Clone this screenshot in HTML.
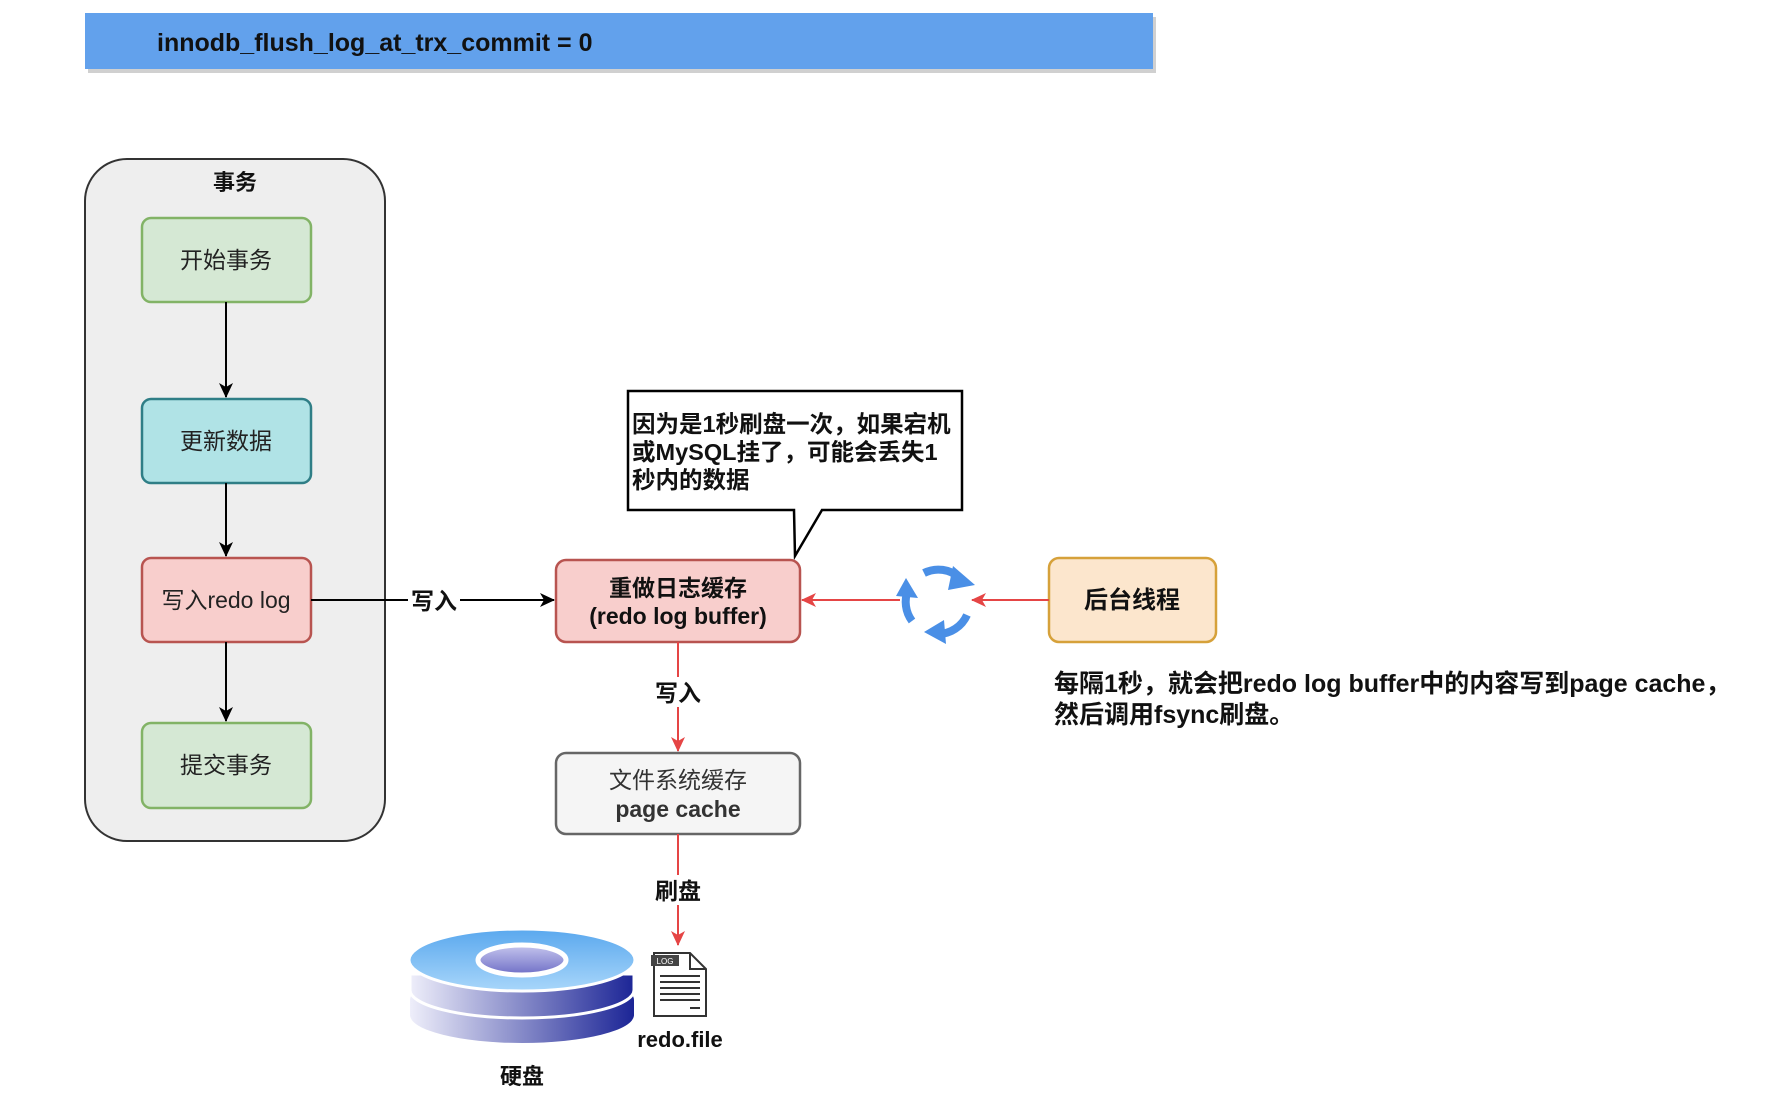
<!DOCTYPE html>
<html><head><meta charset="utf-8"><style>
html,body{margin:0;padding:0;background:#fff;}
svg{display:block;}
text{font-family:"Liberation Sans","Noto Sans CJK SC",sans-serif;}
</style></head><body>
<svg width="1786" height="1114" viewBox="0 0 1786 1114" xmlns="http://www.w3.org/2000/svg">
<defs>
<marker id="ab" markerWidth="16" markerHeight="16" refX="14" refY="8" orient="auto" markerUnits="userSpaceOnUse"><path d="M0,1 L15,8 L0,15 L4,8 Z" fill="#000"/></marker>
<marker id="ar" markerWidth="16" markerHeight="16" refX="14" refY="8" orient="auto" markerUnits="userSpaceOnUse"><path d="M0,1 L15,8 L0,15 L4,8 Z" fill="#e54545"/></marker>
<linearGradient id="dtop" x1="0" y1="0" x2="0" y2="1"><stop offset="0" stop-color="#5aa8ee"/><stop offset="1" stop-color="#a8d6fa"/></linearGradient>
<linearGradient id="dside" x1="0" y1="0" x2="1" y2="0"><stop offset="0" stop-color="#eeeefa"/><stop offset="1" stop-color="#1c2596"/></linearGradient>
<linearGradient id="hole" x1="0" y1="0" x2="0" y2="1"><stop offset="0" stop-color="#c6c6ee"/><stop offset="1" stop-color="#6e6ec6"/></linearGradient>
</defs>
<rect x="88" y="17" width="1068" height="56" fill="#d0d0d0"/>
<rect x="85" y="13" width="1068" height="56" fill="#62a1ec"/>
<text x="157" y="51" font-size="25" font-weight="bold" fill="#111">innodb_flush_log_at_trx_commit = 0</text>
<rect x="85" y="159" width="300" height="682" rx="42" fill="#eeeeee" stroke="#333" stroke-width="2"/>
<text x="235" y="190" font-size="22" font-weight="bold" text-anchor="middle" fill="#111">事务</text>
<rect x="142" y="218" width="169" height="84" rx="9" fill="#d5e8d4" stroke="#82b366" stroke-width="2.5"/>
<text x="226" y="268" font-size="23" text-anchor="middle" fill="#222">开始事务</text>
<rect x="142" y="399" width="169" height="84" rx="9" fill="#b0e3e6" stroke="#2f7e86" stroke-width="2.5"/>
<text x="226" y="449" font-size="23" text-anchor="middle" fill="#222">更新数据</text>
<rect x="142" y="558" width="169" height="84" rx="9" fill="#f8cecc" stroke="#b85450" stroke-width="2.5"/>
<text x="226" y="608" font-size="23" text-anchor="middle" fill="#222">写入redo log</text>
<rect x="142" y="723" width="169" height="85" rx="9" fill="#d5e8d4" stroke="#82b366" stroke-width="2.5"/>
<text x="226" y="773" font-size="23" text-anchor="middle" fill="#222">提交事务</text>
<line x1="226" y1="302" x2="226" y2="397" stroke="#000" stroke-width="2" marker-end="url(#ab)"/>
<line x1="226" y1="483" x2="226" y2="556" stroke="#000" stroke-width="2" marker-end="url(#ab)"/>
<line x1="226" y1="642" x2="226" y2="721" stroke="#000" stroke-width="2" marker-end="url(#ab)"/>
<line x1="311" y1="600" x2="554" y2="600" stroke="#000" stroke-width="2" marker-end="url(#ab)"/>
<rect x="408" y="586" width="52" height="28" fill="#fff"/>
<text x="434" y="609" font-size="23" font-weight="bold" text-anchor="middle" fill="#111">写入</text>
<path d="M628,391 H962 V510 H822 L795,556 L794,510 H628 Z" fill="#fff" stroke="#000" stroke-width="2.5"/>
<text font-size="23.5" font-weight="bold" fill="#111"><tspan x="632" y="432">因为是1秒刷盘一次，如果宕机</tspan><tspan x="632" y="460">或MySQL挂了，可能会丢失1</tspan><tspan x="632" y="488">秒内的数据</tspan></text>
<rect x="556" y="560" width="244" height="82" rx="10" fill="#f8cecc" stroke="#b85450" stroke-width="2.5"/>
<text x="678" y="596" font-size="23" font-weight="bold" text-anchor="middle" fill="#111">重做日志缓存</text>
<text x="678" y="624" font-size="23" font-weight="bold" text-anchor="middle" fill="#111">(redo log buffer)</text>
<rect x="1049" y="558" width="167" height="84" rx="10" fill="#fce6cd" stroke="#d6a13a" stroke-width="2.5"/>
<text x="1132" y="608" font-size="24" font-weight="bold" text-anchor="middle" fill="#111">后台线程</text>
<line x1="1049" y1="600" x2="972" y2="600" stroke="#e54545" stroke-width="2" marker-end="url(#ar)"/>
<line x1="900" y1="600" x2="802" y2="600" stroke="#e54545" stroke-width="2" marker-end="url(#ar)"/>
<g fill="none" stroke="#4a8fe6" stroke-width="8">
<path d="M924,573 A32,32 0 0 1 960,578"/>
<path d="M967,615 A32,32 0 0 1 938,634"/>
<path d="M912,621 A32,32 0 0 1 908,590"/>
</g>
<g fill="#4a8fe6">
<path d="M953,566 L975,585 L948,590 Z"/>
<path d="M944,620 L924,632 L946,644 Z"/>
<path d="M906,578 L896,596 L918,598 Z"/>
</g>
<text font-size="25" font-weight="bold" fill="#111"><tspan x="1054" y="692">每隔1秒，就会把redo log buffer中的内容写到page cache，</tspan><tspan x="1054" y="723">然后调用fsync刷盘。</tspan></text>
<line x1="678" y1="642" x2="678" y2="751" stroke="#e54545" stroke-width="2" marker-end="url(#ar)"/>
<rect x="655" y="677" width="46" height="30" fill="#fff"/>
<text x="678" y="701" font-size="23" font-weight="bold" text-anchor="middle" fill="#111">写入</text>
<rect x="556" y="753" width="244" height="81" rx="10" fill="#f5f5f5" stroke="#666" stroke-width="2.5"/>
<text x="678" y="788" font-size="23" text-anchor="middle" fill="#333">文件系统缓存</text>
<text x="678" y="817" font-size="23" font-weight="bold" text-anchor="middle" fill="#333">page cache</text>
<line x1="678" y1="834" x2="678" y2="945" stroke="#e54545" stroke-width="2" marker-end="url(#ar)"/>
<rect x="655" y="875" width="46" height="30" fill="#fff"/>
<text x="678" y="899" font-size="23" font-weight="bold" text-anchor="middle" fill="#111">刷盘</text>
<path d="M410,1000 V1015 A112,28 0 0 0 634,1015 V1000 Z" fill="url(#dside)"/>
<ellipse cx="522" cy="1000" rx="112" ry="28" fill="url(#dside)"/>
<path d="M410,974 V990 A112,28 0 0 0 634,990 V974 Z" fill="url(#dside)" stroke="#fff" stroke-width="3"/>
<ellipse cx="522" cy="960" rx="113" ry="31" fill="url(#dtop)" stroke="#fff" stroke-width="3"/>
<ellipse cx="522" cy="960" rx="44" ry="15" fill="url(#hole)" stroke="#fff" stroke-width="5"/>
<path d="M654,953 H690 L706,969 V1016 H654 Z" fill="#fff" stroke="#333" stroke-width="2"/>
<path d="M690,953 V969 H706" fill="none" stroke="#333" stroke-width="2"/>
<rect x="651" y="955" width="28" height="11" fill="#444"/>
<text x="665" y="964" font-size="8" fill="#fff" text-anchor="middle">LOG</text>
<g stroke="#333" stroke-width="2"><line x1="660" y1="976" x2="700" y2="976"/><line x1="660" y1="982" x2="700" y2="982"/><line x1="660" y1="988" x2="700" y2="988"/><line x1="660" y1="994" x2="700" y2="994"/><line x1="660" y1="1000" x2="700" y2="1000"/><line x1="690" y1="1008" x2="700" y2="1008"/></g>
<text x="680" y="1047" font-size="22" font-weight="bold" text-anchor="middle" fill="#111">redo.file</text>
<text x="522" y="1084" font-size="22" font-weight="bold" text-anchor="middle" fill="#111">硬盘</text>
</svg>
</body></html>
